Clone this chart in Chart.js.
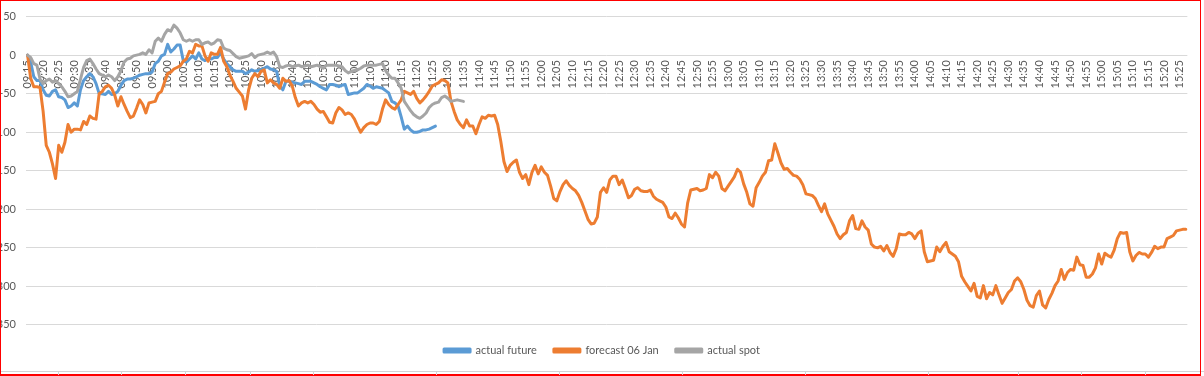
<!DOCTYPE html>
<html><head><meta charset="utf-8">
<script src="https://cdn.jsdelivr.net/npm/chart.js@4/dist/chart.umd.min.js"></script>
<style>
html,body{margin:0;padding:0;background:#fff;}
#wrap{position:relative;width:1204px;height:376px;overflow:hidden;background:#fff;}
#c{position:absolute;left:-10px;top:0;}
#frame{position:absolute;left:0;top:0;width:1199px;height:373px;border:1px solid #ff0000;border-bottom-width:2px;pointer-events:none;}
#sheet{position:absolute;left:0;top:371px;width:1204px;height:1px;background:#d4d4d4;}
.col{position:absolute;top:371px;width:1px;height:4px;background:#d4d4d4;}
</style></head>
<body>
<div id="wrap">
<canvas id="c" width="1214" height="376"></canvas>
<div id="sheet"></div>
<div id="frame"></div>
</div>
<script>
const seriesNames = ['actual future', 'forecast 06 Jan', 'actual spot'];
const seriesColors = ['#5B9BD5', '#ED7D31', '#A5A5A5'];

const forecast = [
0,-30,-41,-41,-42,-73,-117,-126,-141,-160,
-117,-126,-113,-90,-100,-96,-96,-97,-86,-90,
-79,-82,-83,-50,-47,-41,-39,-43,-52,-66,
-54,-64,-73,-81,-79,-69,-58,-64,-75,-62,
-61,-60,-50,-47,-35,-24,-22,-18,-16,-14,
-8,-5,5,3,14,12,12,-1,-8,3,
1,1,10,-8,-15,-26,-34,-43,-48,-53,
-70,-45,-30,-24,-28,-21,-19,-36,-32,-36,
-38,-43,-30,-34,-33,-40,-55,-66,-62,-60,
-62,-60,-64,-70,-74,-73,-80,-87,-88,-75,
-68,-71,-77,-75,-77,-83,-92,-100,-94,-90,
-88,-88,-90,-86,-70,-58,-64,-68,-70,-64,
-58,-47,-49,-51,-47,-56,-62,-58,-53,-47,
-40,-38,-36,-32,-33,-36,-60,-73,-84,-90,
-94,-84,-92,-92,-102,-90,-80,-82,-78,-79,
-78,-90,-112,-138,-151,-143,-139,-136,-152,-160,
-155,-168,-152,-143,-154,-145,-152,-156,-170,-186,
-189,-177,-168,-163,-169,-173,-176,-182,-191,-202,
-213,-219,-218,-210,-178,-172,-178,-162,-157,-157,
-168,-162,-173,-185,-182,-174,-172,-176,-177,-177,
-175,-183,-187,-189,-191,-197,-210,-212,-205,-211,
-219,-223,-192,-175,-174,-173,-176,-175,-173,-155,
-159,-152,-157,-173,-176,-170,-164,-158,-148,-152,
-167,-178,-193,-196,-172,-165,-157,-152,-137,-136,
-115,-127,-140,-148,-147,-152,-156,-157,-161,-168,
-180,-181,-182,-186,-195,-203,-193,-206,-214,-222,
-232,-238,-233,-230,-215,-208,-225,-226,-215,-223,
-227,-245,-249,-250,-248,-254,-247,-256,-261,-251,
-232,-233,-233,-230,-232,-238,-231,-228,-255,-268,
-267,-266,-249,-255,-248,-243,-255,-258,-261,-268,
-287,-294,-300,-306,-296,-313,-315,-299,-316,-308,
-311,-299,-311,-322,-315,-308,-304,-293,-289,-294,
-304,-318,-325,-327,-312,-306,-324,-328,-317,-309,
-299,-293,-278,-291,-282,-278,-279,-262,-272,-273,
-288,-288,-284,-276,-258,-271,-257,-260,-262,-253,
-238,-230,-231,-230,-255,-267,-260,-256,-258,-258,
-262,-256,-248,-251,-249,-249,-238,-236,-234,-228,
-227,-226,-226
];

const actualFuture = [
0,-9,-28,-33,-33,-45,-52,-53,-47,-45,
-54,-55,-58,-68,-66,-62,-66,-45,-33,-28,
-24,-28,-37,-50,-50,-51,-47,-51,-50,-47,
-39,-33,-31,-31,-30,-28,-26,-25,-24,-24,
-22,-11,-8,-1,1,14,4,8,13,13,
-7,-9,-5,-1,-5,3,-5,-7,-4,-5,
-3,-3,3,-5,-11,-15,-19,-21,-21,-21,
-24,-22,-19,-21,-20,-19,-17,-15,-18,-19,
-21,-40,-45,-34,-34,-35,-36,-37,-38,-34,
-34,-34,-36,-38,-41,-43,-45,-38,-38,-39,
-41,-39,-38,-51,-50,-49,-49,-46,-43,-38,
-40,-43,-41,-42,-43,-46,-49,-60,-62,-66,
-80,-96,-92,-97,-100,-100,-99,-97,-97,-96,
-94,-92
];

const actualSpot = [
0,-3,-11,-13,-31,-37,-33,-31,-35,-33,
-37,-41,-47,-54,-53,-50,-47,-31,-16,-7,
-5,-11,-18,-24,-26,-28,-26,-28,-33,-28,
-20,-9,-5,-4,-1,0,1,3,1,7,
3,18,22,18,27,33,31,39,35,29,
20,18,20,18,20,20,14,16,17,14,
16,20,19,9,7,6,2,-2,-4,-3,
-2,-1,2,-3,0,1,2,4,2,4,
-2,-15,-16,-14,-13,-15,-14,-13,-15,-14,
-13,-15,-14,-13,-15,-17,-13,-13,-13,-13,
-14,-15,-20,-23,-21,-20,-19,-17,-14,-13,
-13,-13,-13,-12,-11,-20,-26,-30,-30,-36,
-43,-60,-66,-72,-77,-80,-82,-79,-75,-68,
-64,-62,-61,-55,-53,-56,-60,-59,-58,-59,
-60
];

const tickLabels = [
'09:15','09:20','09:25','09:30','09:35','09:40','09:45','09:50','09:55',
'10:00','10:05','10:10','10:15','10:20','10:25','10:30','10:35','10:40','10:45','10:50','10:55',
'11:00','11:05','11:10','11:15','11:20','11:25','11:30','11:35','11:40','11:45','11:50','11:55',
'12:00','12:05','12:10','12:15','12:20','12:25','12:30','12:35','12:40','12:45','12:50','12:55',
'13:00','13:05','13:10','13:15','13:20','13:25','13:30','13:35','13:40','13:45','13:50','13:55',
'14:00','14:05','14:10','14:15','14:20','14:25','14:30','14:35','14:40','14:45','14:50','14:55',
'15:00','15:05','15:10','15:15','15:20','15:25'
];

const yTicks = [50, 0, -50, -100, -150, -200, -250, -300, -350];
const yMin = -354;   // axis range bottom (a little below the last gridline)
const yMax = 50;

// one category per minute, starting 09:15
const categories = [];
for (let k = 0; k < forecast.length; k++) {
  const m = 9 * 60 + 15 + k;
  categories.push(String(Math.floor(m / 60)).padStart(2, '0') + ':' + String(m % 60).padStart(2, '0'));
}

// spreadsheet cell column edges under the chart (decoration)
const sheetCols = [58,121,185,250,313,436,559,682,805,928,1018,1081,1145];
const wrap = document.getElementById('wrap');
sheetCols.forEach(x => { const d = document.createElement('div'); d.className = 'col'; d.style.left = x + 'px'; wrap.appendChild(d); });

const txt = '#595959';
Chart.defaults.font.family = 'Lato, "Liberation Sans", sans-serif';
Chart.defaults.font.size = 11;
Chart.defaults.color = txt;

const seriesData = [actualFuture, forecast, actualSpot];
const drawOrder = [2, 1, 0];

// nudge the centred legend a little to the right, as in the original
const legendShift = {
  id: 'legendShift',
  afterLayout(chart) { const l = chart.legend; if (l) { l.left += 8; l.right += 8; } }
};

new Chart(document.getElementById('c'), {
  type: 'line',
  plugins: [legendShift],
  data: {
    labels: categories,
    datasets: seriesNames.map((n, k) => ({
      label: n,
      data: seriesData[k],
      borderColor: seriesColors[k],
      backgroundColor: seriesColors[k],
      borderWidth: 3,
      pointRadius: 0,
      tension: 0,
      borderJoinStyle: 'round',
      borderCapStyle: 'round',
      order: drawOrder[k]
    }))
  },
  options: {
    responsive: false,
    animation: false,
    layout: { padding: { left: 0, right: 6, top: 14, bottom: 10 } },
    plugins: {
      legend: {
        position: 'bottom',
        labels: {
          boxWidth: 26, boxHeight: 3, padding: 17, color: txt,
          font: { size: 11 },
          sort: (a, b) => a.datasetIndex - b.datasetIndex
        }
      },
      tooltip: { enabled: false }
    },
    scales: {
      x: {
        type: 'category',
        position: { y: 0 },
        offset: true,
        grid: { display: false, drawTicks: false },
        border: { display: false },
        ticks: {
          autoSkip: false, minRotation: 90, maxRotation: 90, padding: 5, color: txt,
          font: { size: 11 },
          callback: function (v) { const l = this.getLabelForValue(v); return tickLabels.includes(l) ? l : ''; }
        }
      },
      y: {
        min: yMin,
        max: yMax,
        afterBuildTicks: s => { s.ticks = yTicks.map(v => ({ value: v })); },
        afterFit: s => { s.width = 36; },
        grid: { color: '#d9d9d9', lineWidth: 1, drawTicks: false },
        border: { display: false },
        ticks: { padding: 10, color: txt, font: { size: 11 } }
      }
    }
  }
});
</script>
</body></html>
